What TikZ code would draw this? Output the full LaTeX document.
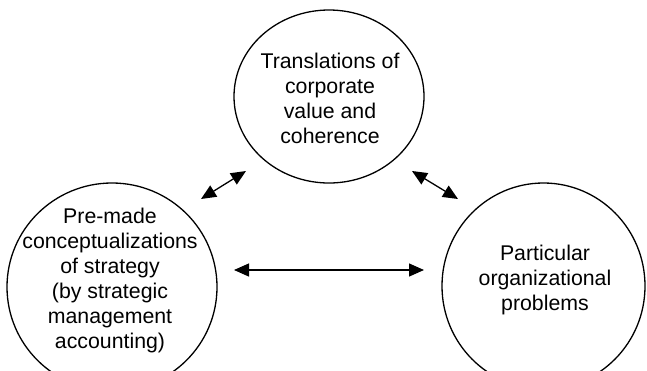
\documentclass[tikz,border=0pt]{standalone}
\usepackage{fontspec}
\setmainfont{Liberation Sans}
\usetikzlibrary{arrows.meta,shapes.geometric}
\begin{document}
\begin{tikzpicture}[x=1pt,y=-1pt,
  ring/.style={draw,ellipse,line width=1.3pt,inner sep=0pt},
  label text/.style={align=center,inner sep=0pt,font=\fontsize{21.3}{25}\selectfont},
  link/.style={line width=1.3pt,{Triangle[length=15pt,width=13pt]}-{Triangle[length=15pt,width=13pt]}}]
  \useasboundingbox (0,0) rectangle (647,370);

  % the three ovals
  \node[ring,minimum width=190pt,minimum height=173pt] (top) at (329,96.5) {};
  \node[ring,minimum width=210pt,minimum height=208pt] (left) at (112,287) {};
  \node[ring,minimum width=203pt,minimum height=206pt] (right) at (543.5,286) {};

  % their texts
  \node[label text] (toptext) at (330,98)
    {Translations of\\corporate\\value and\\coherence};
  \node[label text] (lefttext) at (110,280)
    {Pre-made\\conceptualizations\\of strategy\\(by strategic\\management\\accounting)};
  \node[label text] (righttext) at (545,280)
    {Particular\\organizational\\problems};

  % arrow end points in the gaps between the ovals
  \coordinate (lt-a) at (201,199);
  \coordinate (lt-b) at (246,171);
  \coordinate (rt-a) at (412,171);
  \coordinate (rt-b) at (458,199);
  \coordinate (lr-a) at (234,270);
  \coordinate (lr-b) at (424,270);

  \draw[link] (lt-a) -- (lt-b);
  \draw[link] (rt-a) -- (rt-b);
  \draw[link] (lr-a) -- (lr-b);
\end{tikzpicture}
\end{document}
